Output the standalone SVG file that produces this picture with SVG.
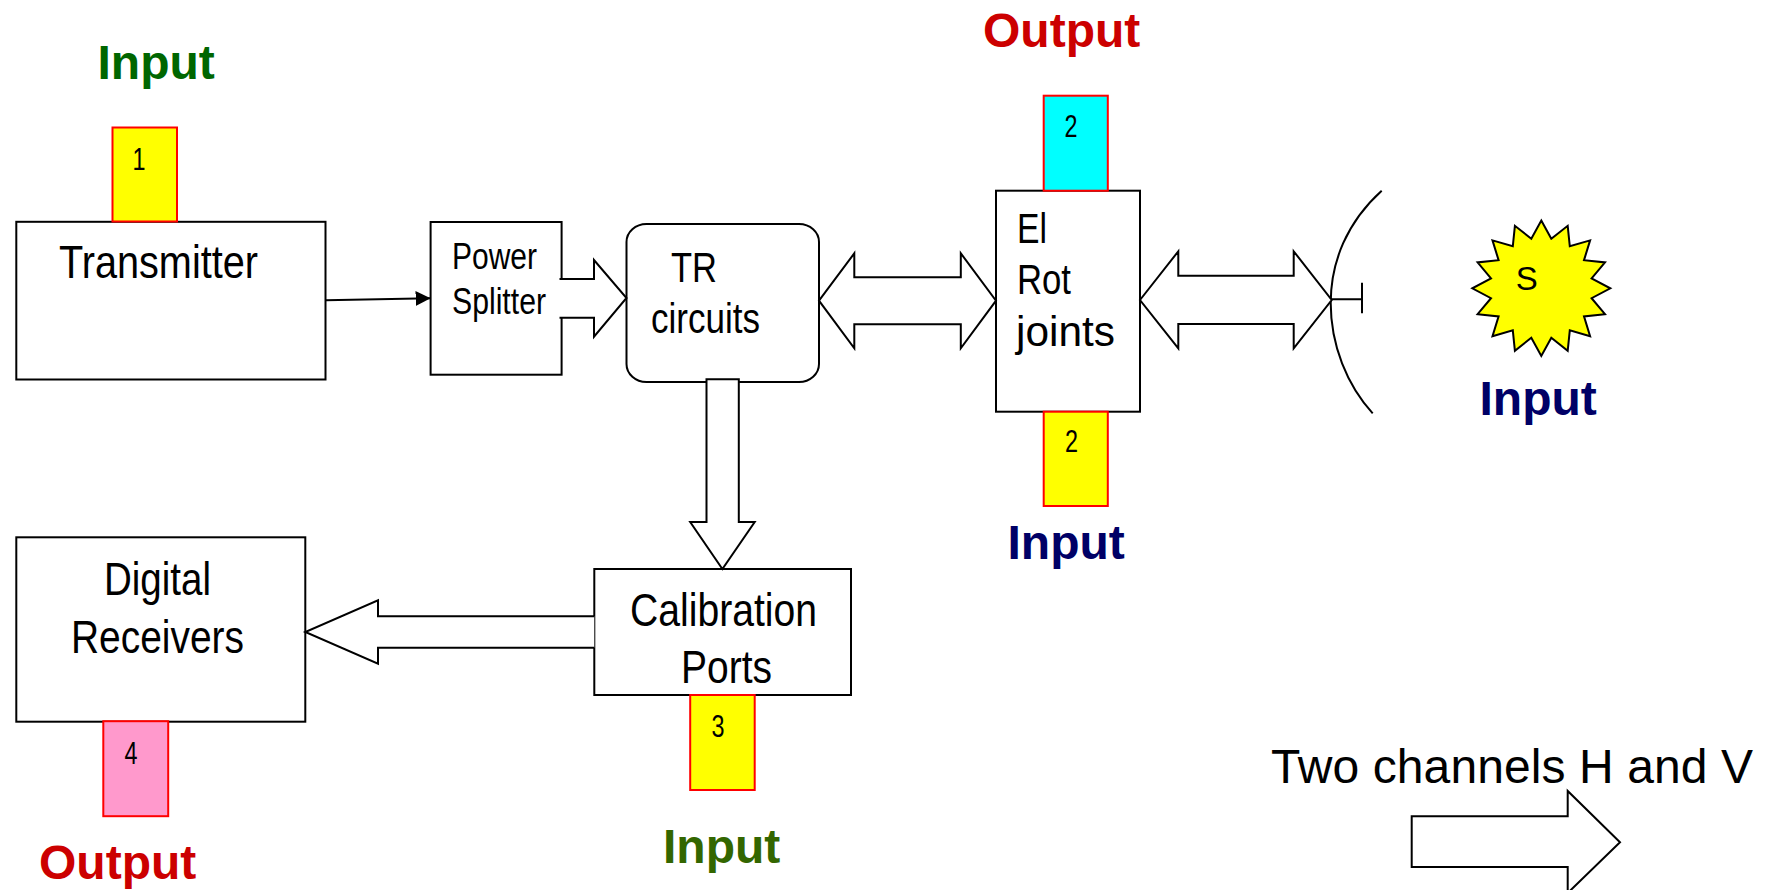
<svg xmlns="http://www.w3.org/2000/svg" width="1773" height="890" viewBox="0 0 1773 890">
<style>
text{font-family:"Liberation Sans",Arial,sans-serif;fill:#000}
.box{fill:#fff;stroke:#000;stroke-width:2}
.port{stroke:#f00;stroke-width:2}
.wide{fill:#fff;stroke:#000;stroke-width:2;stroke-linejoin:miter}
.line{fill:none;stroke:#000;stroke-width:2}
.lab{font-size:46px}
.mid{font-size:42px}
.sm{font-size:36px}
.num{font-size:31px}
.tag{font-size:48px;font-weight:bold}
</style>
<defs>
<marker id="head" markerUnits="userSpaceOnUse" markerWidth="16" markerHeight="16" refX="15" refY="8" orient="auto"><path d="M0 0.5L15 8L0 15.500z" fill="#000"/></marker>
</defs>
<g id="transmitter">
<rect class="box" x="16.300" y="221.800" width="309.200" height="157.700"/>
<text class="lab" x="59" y="278" textLength="199" lengthAdjust="spacingAndGlyphs">Transmitter</text>
</g>
<g id="port1">
<rect class="port" x="112.500" y="127.500" width="64.500" height="94" fill="#ff0"/>
<text class="num" x="132.500" y="169.500" textLength="13" lengthAdjust="spacingAndGlyphs">1</text>
</g>
<text id="input1" class="tag" x="97.500" y="78.900" style="fill:#006600">Input</text>
<g id="splitter">
<rect class="box" x="430.600" y="222" width="131" height="152.700"/>
<text class="sm" x="452" y="269" textLength="85" lengthAdjust="spacingAndGlyphs">Power</text>
<text class="sm" x="452" y="314" textLength="94" lengthAdjust="spacingAndGlyphs">Splitter</text>
</g>
<g id="tr">
<rect class="box" x="626.500" y="224" width="192.500" height="158" rx="20" ry="18"/>
<text class="mid" x="671" y="281.700" textLength="46" lengthAdjust="spacingAndGlyphs">TR</text>
<text class="mid" x="651" y="333" textLength="109" lengthAdjust="spacingAndGlyphs">circuits</text>
</g>
<g id="rotjoints">
<rect class="box" x="996" y="190.700" width="144" height="221"/>
<text class="mid" x="1017" y="242.700" textLength="30" lengthAdjust="spacingAndGlyphs">El</text>
<text class="mid" x="1017" y="294" textLength="54" lengthAdjust="spacingAndGlyphs">Rot</text>
<text class="mid" x="1016" y="345.500" textLength="99" lengthAdjust="spacingAndGlyphs">joints</text>
</g>
<g id="port2top">
<rect class="port" x="1043.700" y="95.700" width="64.100" height="95" fill="#0ff"/>
<text class="num" x="1064.500" y="137" textLength="13" lengthAdjust="spacingAndGlyphs">2</text>
</g>
<text id="output2" class="tag" x="983" y="46.900" style="fill:#c00">Output</text>
<g id="port2bottom">
<rect class="port" x="1043.700" y="411.700" width="64.100" height="94.300" fill="#ff0"/>
<text class="num" x="1065" y="452.300" textLength="13" lengthAdjust="spacingAndGlyphs">2</text>
</g>
<text id="input2" class="tag" x="1007.500" y="559" style="fill:#006">Input</text>
<g id="dish">
<path class="line" d="M1381.700 190.700C1347 222 1330.700 262 1330.700 303C1330.700 345 1347 385 1372.700 413.300"/>
<path class="line" d="M1331 299.300H1362M1362 282.700V313.300"/>
</g>
<g id="source">
<polygon points="1541.300,220.600 1551.300,238.800 1567.700,225.800 1569.800,246.300 1590.100,240.400 1584,260.200 1605,262.400 1591.600,278.400 1610.300,288.300 1591.600,298.200 1605,314.200 1584,316.400 1590.100,336.200 1569.800,330.300 1567.700,350.800 1551.300,337.800 1541.300,356 1531.300,337.800 1514.900,350.800 1512.800,330.300 1492.500,336.200 1498.600,316.400 1477.600,314.200 1491,298.200 1472.300,288.300 1491,278.400 1477.600,262.400 1498.600,260.200 1492.500,240.400 1512.800,246.300 1514.900,225.800 1531.300,238.800" fill="#ff0" stroke="#000" stroke-width="2"/>
<text x="1526.700" y="290" font-size="33" text-anchor="middle">S</text>
</g>
<text id="input-source" class="tag" x="1479.500" y="415" style="fill:#006">Input</text>
<g id="receivers">
<rect class="box" x="16.300" y="537.300" width="289" height="184.400"/>
<text class="lab" x="104" y="594.500" textLength="107" lengthAdjust="spacingAndGlyphs">Digital</text>
<text class="lab" x="71" y="652.500" textLength="173" lengthAdjust="spacingAndGlyphs">Receivers</text>
</g>
<g id="port4">
<rect class="port" x="103.300" y="721.200" width="64.900" height="95" fill="#f9c"/>
<text class="num" x="124.500" y="763.500" textLength="13" lengthAdjust="spacingAndGlyphs">4</text>
</g>
<text id="output4" class="tag" x="39" y="879" style="fill:#c00">Output</text>
<g id="calibration">
<rect class="box" x="594.300" y="569" width="256.700" height="126"/>
<text class="lab" x="630" y="626" textLength="187" lengthAdjust="spacingAndGlyphs">Calibration</text>
<text class="lab" x="681" y="682.700" textLength="91" lengthAdjust="spacingAndGlyphs">Ports</text>
</g>
<g id="port3">
<rect class="port" x="690.200" y="695" width="64.500" height="95" fill="#ff0"/>
<text class="num" x="711.500" y="736.500" textLength="13" lengthAdjust="spacingAndGlyphs">3</text>
</g>
<text id="input3" class="tag" x="663" y="863" style="fill:#360">Input</text>
<text id="legend-label" x="1271" y="783" font-size="48" textLength="482" lengthAdjust="spacing">Two channels H and V</text>
<g id="connectors">
<line class="line" x1="325.500" y1="300.300" x2="430.600" y2="298.300" marker-end="url(#head)"/>
<path class="wide" d="M559.500 279H594V260L626.500 298L594 336.700V317.700H559.500"/>
<polygon class="wide" points="819,300.700 854.300,253.300 854.300,277.300 960.800,277.300 960.800,253.300 996,300.700 960.800,348.300 960.800,324.300 854.300,324.300 854.300,348.300"/>
<polygon class="wide" points="1140,300 1178.300,251.300 1178.300,275.700 1293.700,275.700 1293.700,251.300 1331.700,300 1293.700,348.300 1293.700,324 1178.300,324 1178.300,348.300"/>
<polygon class="wide" points="706.500,379.300 738.800,379.300 738.800,522 754.700,522 722.400,569 690.200,522 706.500,522"/>
<path class="wide" d="M594.300 616.300H378V600.300L305.300 632L378 663.700V647.700H594.300"/>
<polygon class="wide" points="1411.700,816.300 1567.700,816.300 1567.700,791 1620,842.300 1567.700,893 1567.700,867 1411.700,867"/>
</g>
</svg>
